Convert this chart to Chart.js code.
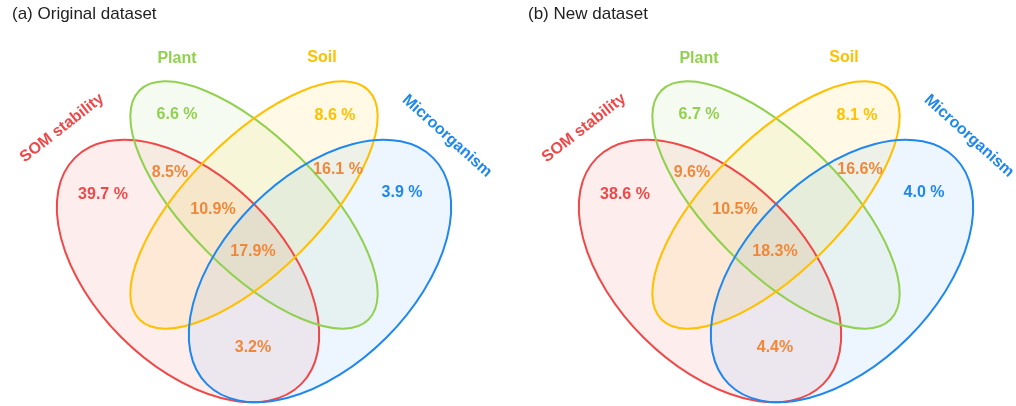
<!DOCTYPE html>
<html>
<head>
<meta charset="utf-8">
<script src="https://cdn.jsdelivr.net/npm/chart.js@4.4.1/dist/chart.umd.min.js"></script>
<style>
  html, body { margin: 0; padding: 0; background: #ffffff; }
  #wrap { position: relative; width: 1016px; height: 406px; overflow: hidden; }
  .panel { position: absolute; top: 0; height: 406px; }
  canvas { display: block; }
</style>
</head>
<body>
<div id="wrap">
  <div class="panel" style="left:0px;width:520px"><canvas id="chartA" width="520" height="406"></canvas></div>
  <div class="panel" style="left:522px;width:494px"><canvas id="chartB" width="494" height="406"></canvas></div>
</div>
<script>
// ---- data ----------------------------------------------------------------
const setNames = ['SOM stability', 'Plant', 'Soil', 'Microorganism'];
const regionNames = [
  'SOM stability only', 'Plant only', 'Soil only', 'Microorganism only',
  'SOM stability & Plant', 'Soil & Microorganism',
  'SOM stability & Plant & Soil', 'All four', 'SOM stability & Microorganism'
];
const originalShares = [39.7, 6.6, 8.6, 3.9, 8.5, 16.1, 10.9, 17.9, 3.2];
const newShares      = [38.6, 6.7, 8.1, 4.0, 9.6, 16.6, 10.5, 18.3, 4.4];
// whether a space sits between the number and the % sign
const originalSpaced = [true, true, true, true, false, true, false, false, false];
const newSpaced      = [true, true, true, true, false, false, false, false, false];
const panelTitles = ['(a) Original dataset', '(b) New dataset'];

// ---- layout (panel units, 1 unit = 1 px, y measured downward) ------------
const shapes = [            // centre, semi-axes, tilt in degrees
  { cx: 188, cy: 271, a: 160, b: 94, tilt: 45 },   // SOM stability
  { cx: 254, cy: 205, a: 162, b: 66, tilt: 45 },   // Plant
  { cx: 254, cy: 205, a: 162, b: 66, tilt: -45 },  // Soil
  { cx: 320, cy: 271, a: 160, b: 94, tilt: -45 }   // Microorganism
];
const regionAnchors = [
  [103, 195], [177, 115], [335, 116], [402, 193],
  [170, 173], [338, 170], [213, 210], [253, 252], [253, 348]
];
const setLabelSpots = [     // x, y, rotation in degrees
  [62, 128, -38], [177, 59, 0], [322, 58, 0], [447, 136, 42]
];

// ---- styles --------------------------------------------------------------
const strokeColors = ['#f04848', '#92d050', '#ffc000', '#1f87f0'];
const fillColors = ['rgba(240,75,75,0.10)', 'rgba(146,208,80,0.08)',
                    'rgba(255,192,0,0.10)', 'rgba(30,135,240,0.08)'];
const regionColors = ['#f04848', '#92d050', '#ffc000', '#1f87f0',
                      '#f0883c', '#f0883c', '#f0883c', '#f0883c', '#f0883c'];
const FONT = '"Liberation Sans", Arial, Helvetica, sans-serif';

const vennPlugin = {
  id: 'venn',
  beforeDatasetsDraw(chart) {
    const { ctx, scales: { x, y } } = chart;
    const o = chart.options.plugins.venn;
    const paths = shapes.map(e => {
      const cx = x.getPixelForValue(e.cx), cy = y.getPixelForValue(e.cy);
      const rx = Math.abs(x.getPixelForValue(e.cx + e.a) - cx);
      const ry = Math.abs(y.getPixelForValue(e.cy + e.b) - cy);
      const p = new Path2D();
      p.ellipse(cx, cy, rx, ry, e.tilt * Math.PI / 180, 0, Math.PI * 2);
      return p;
    });
    ctx.save();
    paths.forEach((p, i) => { ctx.fillStyle = fillColors[i]; ctx.fill(p); });
    ctx.lineWidth = 2;
    paths.forEach((p, i) => { ctx.strokeStyle = strokeColors[i]; ctx.stroke(p); });

    // panel title
    ctx.fillStyle = '#222222';
    ctx.font = '17px ' + FONT;
    ctx.textAlign = 'left';
    ctx.textBaseline = 'alphabetic';
    ctx.fillText(o.title, o.titleX, 19);

    // set names
    ctx.font = 'bold 16px ' + FONT;
    ctx.textAlign = 'center';
    ctx.textBaseline = 'middle';
    setLabelSpots.forEach((s, i) => {
      ctx.save();
      ctx.translate(x.getPixelForValue(s[0]), y.getPixelForValue(s[1]));
      ctx.rotate(s[2] * Math.PI / 180);
      ctx.fillStyle = strokeColors[i];
      ctx.fillText(setNames[i], 0, 0);
      ctx.restore();
    });
    ctx.restore();
  },
  afterDatasetsDraw(chart) {
    const { ctx } = chart;
    const ds = chart.data.datasets[0];
    ctx.save();
    ctx.font = 'bold 16px ' + FONT;
    ctx.textAlign = 'center';
    ctx.textBaseline = 'middle';
    chart.getDatasetMeta(0).data.forEach((pt, i) => {
      const d = ds.data[i];
      ctx.fillStyle = regionColors[i];
      ctx.fillText(d.v.toFixed(1) + (d.spaced ? ' %' : '%'), pt.x, pt.y);
    });
    ctx.restore();
  }
};

function drawPanel(canvasId, title, titleX, shares, spaced) {
  const canvas = document.getElementById(canvasId);
  return new Chart(canvas, {
    type: 'scatter',
    data: {
      datasets: [{
        label: 'Share of studies',
        data: shares.map((v, i) => ({
          x: regionAnchors[i][0], y: regionAnchors[i][1],
          v: v, spaced: spaced[i], region: regionNames[i]
        })),
        pointRadius: 0,
        pointHoverRadius: 0
      }]
    },
    options: {
      responsive: false,
      animation: false,
      devicePixelRatio: 1,
      layout: { padding: 0 },
      scales: {
        x: { type: 'linear', min: 0, max: canvas.width, display: false },
        y: { type: 'linear', min: 0, max: 406, reverse: true, display: false }
      },
      plugins: {
        legend: { display: false },
        tooltip: { enabled: false },
        venn: { title: title, titleX: titleX }
      }
    },
    plugins: [vennPlugin]
  });
}

drawPanel('chartA', panelTitles[0], 12, originalShares, originalSpaced);
drawPanel('chartB', panelTitles[1], 6, newShares, newSpaced);
</script>
</body>
</html>
